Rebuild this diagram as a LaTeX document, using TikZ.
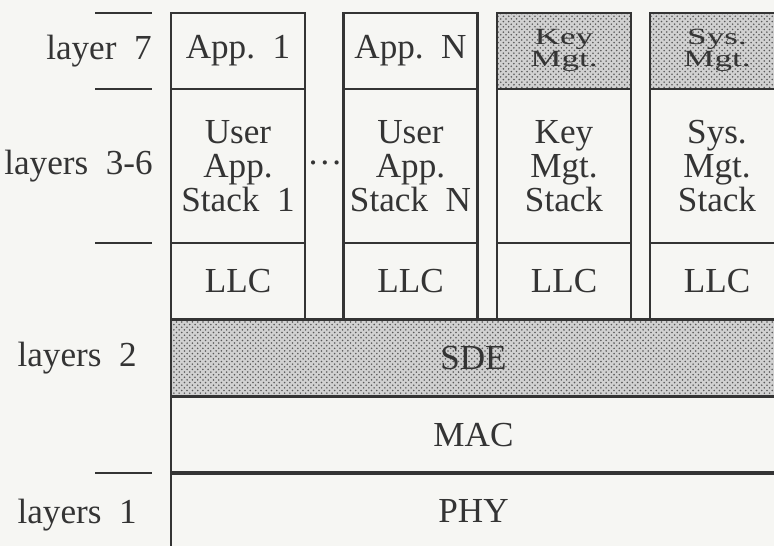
\documentclass[tikz,border=0pt]{standalone}
\usepackage{graphicx}
\usepackage{fontspec}
\setmainfont{Liberation Serif}
\usetikzlibrary{patterns}

\definecolor{paper}{RGB}{246,246,243}
\definecolor{ink}{RGB}{52,52,52}

\newcommand{\squash}[1]{\scalebox{1}[0.66]{\begin{tabular}{@{}c@{}}#1\end{tabular}}}

\tikzset{
  cell/.style={draw=ink, line width=1.2pt, inner sep=0pt, align=center,
    text=ink, font=\fontsize{20}{19.5}\selectfont, minimum width=2.68cm},
  toprow/.style={cell, minimum height=1.52cm},
  stackrow/.style={cell, minimum height=3.08cm},
  llcrow/.style={cell, minimum height=1.52cm},
  band/.style={cell, minimum width=12.1cm, minimum height=1.54cm},
  dotted fill/.style={preaction={fill=black!18},
    pattern=crosshatch dots, pattern color=black!65},
  tick/.style={draw=ink, line width=1.2pt},
  lbl/.style={text=ink, font=\fontsize{20}{19.5}\selectfont, inner sep=0pt}
}

\begin{document}
\begin{tikzpicture}[x=0.02cm, y=-0.02cm]
        \fill[paper] (0,0) rectangle (774,546);
        \useasboundingbox (0,0) rectangle (774,546);
        \clip (0,0) rectangle (774,546);

        % layer marks on the left
        \foreach \y in {13,89,243,473}
            \draw[tick] (95,\y) -- (152,\y);

        \node[lbl, anchor=east] (l7) at (152,51) {layer\ \ 7};
        \node[lbl, anchor=east] (l36) at (153,166) {layers\ \ 3-6};
        \node[lbl, anchor=east] (l2) at (137,358) {layers\ \ 2};
        \node[lbl, anchor=east] (l1) at (137,515) {layers\ \ 1};

        % columns
        \node[toprow] (app1) at (238,51) {App.\ \ 1};
        \node[stackrow] (stk1) at (238,166) {User\\App.\\Stack\ \ 1};
        \node[llcrow] (llc1) at (238,281) {LLC};

        \node[toprow] (appn) at (410.5,51) {App.\ \ N};
        \node[stackrow] (stkn) at (410.5,166) {User\\App.\\Stack\ \ N};
        \node[llcrow] (llcn) at (410.5,281) {LLC};

        \node[toprow, dotted fill] (keyapp) at (564,51) {\squash{Key\\Mgt.}};
        \node[stackrow] (keystk) at (564,166) {Key\\Mgt.\\Stack};
        \node[llcrow] (keyllc) at (564,281) {LLC};

        \node[toprow, dotted fill] (sysapp) at (717,51) {\squash{Sys.\\Mgt.}};
        \node[stackrow] (sysstk) at (717,166) {Sys.\\Mgt.\\Stack};
        \node[llcrow] (sysllc) at (717,281) {LLC};

        \node[lbl] (dots) at (325,163) {\dots};

        % shared layers
        \node[band, dotted fill] (sde) at (473.5,358) {SDE};
        \node[band] (mac) at (473.5,435) {MAC};
        \node[band] (phy) at (473.5,511) {PHY};
    \end{tikzpicture}
\end{document}
